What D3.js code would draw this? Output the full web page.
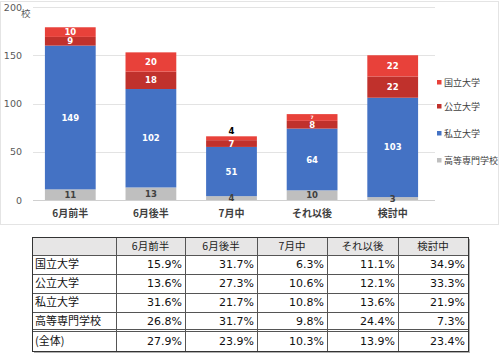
<!DOCTYPE html>
<html><head><meta charset="utf-8">
<script src="https://cdn.jsdelivr.net/npm/d3@7"></script>
<style>body{margin:0;background:#fff;}svg{display:block;}</style>
</head><body>
<script>
const categories = ["6月前半","6月後半","7月中","それ以後","検討中"];
const seriesNames = ["国立大学","公立大学","私立大学","高等専門学校"];
const kokuritsu = [10,20,4,7,22];
const koritsu = [9,18,7,8,22];
const shiritsu = [149,102,51,64,103];
const kosen = [11,13,4,10,3];
const yTicks = [0,50,100,150,200];
const yUnit = "校";

const tableHeader = ["","6月前半","6月後半","7月中","それ以後","検討中"];
const tableRowLabels = ["国立大学","公立大学","私立大学","高等専門学校","(全体)"];
const pctKokuritsu = ["15.9%","31.7%","6.3%","11.1%","34.9%"];
const pctKoritsu = ["13.6%","27.3%","10.6%","12.1%","33.3%"];
const pctShiritsu = ["31.6%","21.7%","10.8%","13.6%","21.9%"];
const pctKosen = ["26.8%","31.7%","9.8%","24.4%","7.3%"];
const pctAll = ["27.9%","23.9%","10.3%","13.9%","23.4%"];

const W=500,H=358;
const svg=d3.select("body").append("svg").attr("width",W).attr("height",H);
const jp="'Noto Sans CJK JP','Noto Sans',sans-serif";
const num="'DejaVu Sans','Noto Sans CJK JP',sans-serif";

// chart frame
svg.append("rect").attr("x",0.5).attr("y",1.5).attr("width",498).attr("height",223)
  .attr("fill","none").attr("stroke","#e4e4e4");

const x=d3.scaleBand().domain(categories).range([30,433]).paddingInner(0.37).paddingOuter(0.185);
const y=d3.scaleLinear().domain([0,200]).range([200,7]);

// gridlines
svg.append("g").selectAll("line").data(yTicks).join("line")
  .attr("x1",33).attr("x2",435).attr("y1",d=>Math.round(y(d))+0.5).attr("y2",d=>Math.round(y(d))+0.5)
  .attr("stroke",d=>d===0?"#d0d0d0":"#e3e3e3").attr("stroke-width",1);

// y axis labels
const yAxis=d3.axisLeft(y).tickValues(yTicks).tickSize(0).tickPadding(0);
const ga=svg.append("g").attr("transform","translate(22,0)").call(yAxis);
ga.select(".domain").remove();
ga.selectAll("text").attr("font-family",num).attr("font-size",9.5).attr("fill","#595959");
svg.append("text").attr("x",21).attr("y",17).text(yUnit).attr("font-family",jp).attr("font-size",9.5).attr("fill","#595959");

// stack
const rows=categories.map((c,i)=>({cat:c,"高等専門学校":kosen[i],"私立大学":shiritsu[i],"公立大学":koritsu[i],"国立大学":kokuritsu[i]}));
const order=["高等専門学校","私立大学","公立大学","国立大学"];
const colors={"国立大学":"#E8413A","公立大学":"#C0312C","私立大学":"#4472C4","高等専門学校":"#BFBFBF"};
const stacked=d3.stack().keys(order)(rows);

stacked.forEach((s,si)=>{
  const g=svg.append("g");
  s.forEach((d,i)=>{
    const x0=x(d.data.cat), bw=x.bandwidth();
    const y0=y(d[1]), h=y(d[0])-y(d[1]);
    g.append("rect").attr("x",x0).attr("y",y0).attr("width",bw).attr("height",h).attr("fill",colors[s.key]);
  });
});
stacked.forEach((s,si)=>{
  s.forEach((d,i)=>{
    const x0=x(d.data.cat), bw=x.bandwidth();
    const y0=y(d[1]), h=y(d[0])-y(d[1]);
    const v=d[1]-d[0];
    const isTop=si===order.length-1;
    if(isTop && v<5){
      svg.append("text").attr("x",x0+bw/2).attr("y",y0-2).attr("text-anchor","middle")
        .attr("font-family",num).attr("font-weight","bold").attr("font-size",8.5).attr("fill","#000").text(v);
    } else {
      const fs = (isTop && h<8) ? 4.5 : 8.5;
      svg.append("text").attr("x",x0+bw/2).attr("y",(y0+y(d[0]))/2).attr("dy","0.36em").attr("text-anchor","middle")
        .attr("font-family",num).attr("font-weight","bold").attr("font-size",fs)
        .attr("fill",s.key==="高等専門学校"?"#404040":"#fff").text(v);
    }
  });
});

// x labels
const xa=svg.append("g").attr("transform","translate(0,200)").call(d3.axisBottom(x).tickSize(0).tickPadding(10));
xa.select(".domain").remove();
xa.selectAll("text").attr("font-family",jp).attr("font-size",10).attr("font-weight","bold").attr("fill","#404040");

// legend
const legY={"国立大学":83,"公立大学":107,"私立大学":134,"高等専門学校":161};
seriesNames.forEach(n=>{
  svg.append("rect").attr("x",437).attr("y",legY[n]-3).attr("width",4.5).attr("height",4.5).attr("fill",colors[n]);
  svg.append("text").attr("x",444).attr("y",legY[n]).attr("dy","0.35em").attr("font-family",jp).attr("font-size",9).attr("fill","#404040").text(n);
});

// table
const colX=[32,116,185,257,327,398,468];
const rowY=[237,255,274,293,312,331,351];
const tbl=svg.append("g");
tbl.append("rect").attr("x",colX[0]+2).attr("y",rowY[0]+2).attr("width",colX[6]-colX[0]).attr("height",rowY[6]-rowY[0]).attr("fill","#b0b0b0");
tbl.append("rect").attr("x",colX[0]).attr("y",rowY[0]).attr("width",colX[6]-colX[0]).attr("height",rowY[6]-rowY[0]).attr("fill","#fff");
tbl.append("rect").attr("x",colX[0]).attr("y",rowY[0]).attr("width",colX[6]-colX[0]).attr("height",rowY[1]-rowY[0]).attr("fill","#E7E6E6");
rowY.slice(1,6).forEach((yy,i)=>{
  tbl.append("line").attr("x1",colX[0]).attr("x2",colX[6]).attr("y1",yy+0.5).attr("y2",yy+0.5).attr("stroke","#555").attr("stroke-width",1);
  if(i===4) tbl.append("line").attr("x1",colX[0]).attr("x2",colX[6]).attr("y1",yy-1.5).attr("y2",yy-1.5).attr("stroke","#555").attr("stroke-width",1);
});
colX.slice(1,6).forEach(xx=>{
  tbl.append("line").attr("x1",xx+0.5).attr("x2",xx+0.5).attr("y1",rowY[0]).attr("y2",rowY[6]).attr("stroke","#555");
});
tbl.append("rect").attr("x",colX[0]+0.5).attr("y",rowY[0]+0.5).attr("width",colX[6]-colX[0]).attr("height",rowY[6]-rowY[0])
  .attr("fill","none").attr("stroke","#333").attr("stroke-width",1);

tableHeader.forEach((h,j)=>{
  if(!h) return;
  tbl.append("text").attr("x",(colX[j]+colX[j+1])/2).attr("y",(rowY[0]+rowY[1])/2).attr("dy","0.36em")
    .attr("text-anchor","middle").attr("font-family",jp).attr("font-size",10.5).attr("fill","#222").text(h);
});
const pctRows=[pctKokuritsu,pctKoritsu,pctShiritsu,pctKosen,pctAll];
tableRowLabels.forEach((lab,r)=>{
  const cy=(rowY[r+1]+rowY[r+2])/2;
  tbl.append("text").attr("x",colX[0]+3).attr("y",cy).attr("dy","0.36em")
    .attr("font-family",jp).attr("font-size",11).attr("fill","#111").text(lab);
  pctRows[r].forEach((v,j)=>{
    tbl.append("text").attr("x",colX[j+2]-3).attr("y",cy).attr("dy","0.36em").attr("text-anchor","end")
      .attr("font-family",num).attr("font-size",11).attr("fill","#111").text(v);
  });
});
</script>
</body></html>
